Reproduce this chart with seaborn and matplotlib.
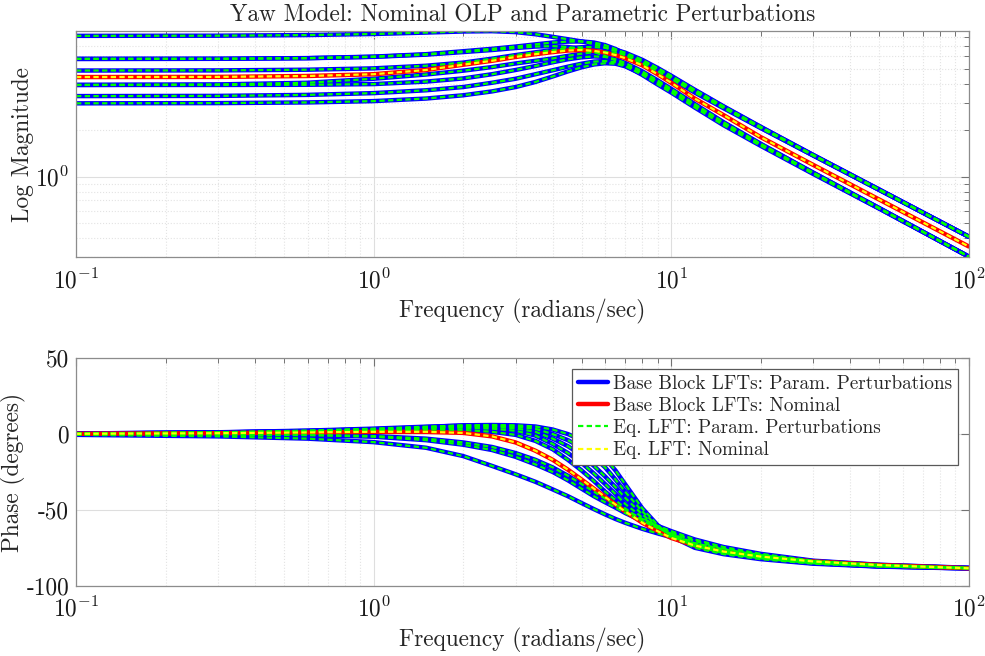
import numpy as np
import pandas as pd
import matplotlib
matplotlib.use("Agg")
import matplotlib.pyplot as plt
import seaborn as sns
from matplotlib.lines import Line2D
from matplotlib.ticker import LogLocator, NullFormatter, FixedLocator, FuncFormatter

# Frequency grid (rad/s) shared by every response
freq = [0.1, 0.3, 0.6, 1, 1.5, 2, 2.5, 3, 3.5, 4, 4.5, 5, 5.5, 6, 6.5, 7,
        8, 9, 10, 12, 15, 20, 30, 50, 100]

# Magnitude responses
mag_nom = [4.41, 4.42, 4.48, 4.60, 4.90, 5.30, 5.62, 5.95, 6.20, 6.40, 6.55, 6.60, 6.52,
           6.35, 6.12, 5.85, 5.25, 4.60, 4.05, 3.20, 2.50, 1.80, 1.19, 0.71, 0.3526]
mag_p1 = [8.15, 8.17, 8.25, 8.38, 8.56, 8.70, 8.74, 8.62, 8.35, 8.03, 7.75, 7.50, 7.20,
          6.85, 6.50, 6.10, 5.40, 4.80, 4.30, 3.50, 2.77, 2.06, 1.37, 0.82, 0.408]
mag_p2 = [5.78, 5.79, 5.85, 5.98, 6.20, 6.48, 6.72, 6.95, 7.18, 7.38, 7.48, 7.50, 7.38,
          7.10, 6.70, 6.25, 5.50, 4.85, 4.35, 3.55, 2.80, 2.07, 1.37, 0.82, 0.408]
mag_p3 = [5.78, 5.79, 5.84, 5.96, 6.16, 6.40, 6.60, 6.80, 6.95, 7.00, 6.90, 6.70, 6.40,
          6.05, 5.65, 5.25, 4.55, 3.95, 3.50, 2.80, 2.15, 1.58, 1.04, 0.62, 0.303]
mag_p4 = [4.86, 4.87, 4.92, 5.02, 5.22, 5.47, 5.80, 6.12, 6.38, 6.60, 6.78, 6.88, 6.90,
          6.82, 6.62, 6.35, 5.70, 5.05, 4.50, 3.65, 2.85, 2.10, 1.38, 0.825, 0.408]
mag_p5 = [3.92, 3.95, 4.05, 4.30, 4.58, 4.85, 5.12, 5.40, 5.62, 5.82, 6.05, 6.25, 6.38,
          6.42, 6.35, 6.15, 5.60, 5.00, 4.45, 3.62, 2.83, 2.09, 1.38, 0.823, 0.408]
mag_p6 = [3.92, 3.92, 3.93, 3.97, 4.12, 4.32, 4.60, 4.90, 5.20, 5.50, 5.75, 5.92, 6.00,
          5.95, 5.75, 5.45, 4.80, 4.20, 3.70, 2.95, 2.25, 1.63, 1.06, 0.625, 0.303]
mag_p7 = [3.32, 3.33, 3.38, 3.47, 3.62, 3.80, 4.05, 4.30, 4.60, 4.88, 5.15, 5.38, 5.55,
          5.60, 5.50, 5.28, 4.70, 4.12, 3.65, 2.92, 2.23, 1.62, 1.06, 0.625, 0.303]
mag_p8 = [2.98, 2.99, 3.02, 3.08, 3.20, 3.36, 3.56, 3.80, 4.10, 4.45, 4.80, 5.10, 5.32,
          5.42, 5.38, 5.18, 4.60, 4.05, 3.58, 2.88, 2.20, 1.60, 1.05, 0.622, 0.303]

# Phase responses (degrees)
ph_nom = [0.2, 0.6, 1.1, 1.5, 1.5, 0.8, -1.5, -5.5, -11, -17, -23.5, -30, -36, -41.5,
          -46.5, -51, -58.5, -64, -68.5, -73.5, -77.5, -80.8, -84, -86.4, -88.5]
ph_p1 = [-0.5, -1.5, -3.0, -5.3, -9.0, -14.5, -21, -26.5, -31.5, -36.5, -41, -45.5, -49.5,
         -53, -56, -58.5, -62.5, -65.5, -68, -72, -76, -79.8, -83.8, -86.3, -88.3]
ph_p2 = [0, -0.2, -0.5, -1.3, -3.0, -5.5, -8.5, -12.5, -17, -22, -27.5, -33, -38, -42.5,
         -46.5, -50, -56, -60.5, -64, -69.5, -74.5, -79, -83.5, -86.2, -88.2]
ph_p3 = [-0.1, -0.3, -0.7, -1.7, -4.0, -7.0, -10.5, -15, -20, -25, -30.5, -36, -41, -45,
         -48.5, -52, -57.5, -61.5, -65, -70.5, -75.5, -79.5, -84, -86.5, -88.4]
ph_p4 = [0.3, 0.9, 1.7, 2.4, 3.0, 2.8, 1.5, -0.5, -4.5, -10, -17, -24, -31, -38, -43.5,
         -49, -57, -62, -65.5, -72, -77, -81, -84.5, -86.8, -88.4]
ph_p5 = [0.4, 1.1, 2.1, 3.2, 4.0, 4.2, 3.6, 2.2, -1, -6.5, -12.5, -19, -26, -33, -39.5,
         -46, -55, -61.5, -66, -72.5, -77.5, -81.2, -84.6, -86.8, -88.4]
ph_p6 = [0.3, 1.0, 1.9, 3.0, 4.2, 5.0, 4.8, 3.8, 1.5, -3, -8, -14, -21, -28, -35,
         -42, -53, -61.5, -66.5, -73, -78, -81.7, -85, -87.2, -88.6]
ph_p7 = [0.4, 1.2, 2.3, 3.6, 4.9, 5.6, 5.6, 5.0, 3.5, 0, -4, -9, -15, -22, -30,
         -38, -51, -61, -67, -74, -78.5, -82, -85.2, -87.3, -88.6]
ph_p8 = [0.3, 1.0, 2.0, 3.2, 4.6, 5.8, 6.0, 5.8, 5.0, 3, 0, -4, -9.5, -16, -24,
         -33, -49, -60, -67.5, -75, -79.2, -82.5, -85.5, -87.4, -88.7]

mag_perturbed = [mag_p1, mag_p2, mag_p3, mag_p4, mag_p5, mag_p6, mag_p7, mag_p8]
ph_perturbed = [ph_p1, ph_p2, ph_p3, ph_p4, ph_p5, ph_p6, ph_p7, ph_p8]

legend_labels = ["Base Block LFTs: Param. Perturbations",
                 "Base Block LFTs: Nominal",
                 "Eq. LFT: Param. Perturbations",
                 "Eq. LFT: Nominal"]


def long_frame(curves):
    rows = []
    for k, vals in enumerate(curves):
        for f, v in zip(freq, vals):
            rows.append({"freq": f, "value": v, "curve": k})
    return pd.DataFrame(rows)


sns.set_style("white")
plt.rcParams["font.family"] = "serif"
plt.rcParams["font.serif"] = ["cmr10", "DejaVu Serif"]
plt.rcParams["mathtext.fontset"] = "cm"
plt.rcParams["axes.formatter.use_mathtext"] = True
plt.rcParams["axes.unicode_minus"] = False

BLUE, RED, GREEN, YELLOW = (0, 0, 1), (1, 0, 0), (0, 1, 0), (1, 1, 0)
SOLID_LW, DASH_LW, DASH = 3.2, 1.6, (2.4, 1.5)
FS = 16.8

fig = plt.figure(figsize=(9.85, 6.56), dpi=100)
ax_mag = fig.add_axes([0.0772, 0.6078, 0.9063, 0.3449])
ax_ph = fig.add_axes([0.0772, 0.1072, 0.9063, 0.3466])


def draw_layers(ax, perturbed, nominal):
    pert = long_frame(perturbed)
    nom = long_frame([nominal])
    sns.lineplot(data=pert, x="freq", y="value", units="curve", estimator=None,
                 color=BLUE, lw=SOLID_LW, sort=False, legend=False, ax=ax)
    sns.lineplot(data=nom, x="freq", y="value", units="curve", estimator=None,
                 color=RED, lw=SOLID_LW, sort=False, legend=False, ax=ax)
    n0 = len(ax.lines)
    sns.lineplot(data=pert, x="freq", y="value", units="curve", estimator=None,
                 color=GREEN, lw=DASH_LW, sort=False, legend=False, ax=ax)
    sns.lineplot(data=nom, x="freq", y="value", units="curve", estimator=None,
                 color=YELLOW, lw=DASH_LW, sort=False, legend=False, ax=ax)
    for ln in ax.lines[n0:]:
        ln.set_dashes(DASH)


def style_axis(ax):
    ax.set_xscale("log")
    ax.set_xlim(0.1, 100)
    ax.xaxis.set_major_locator(LogLocator(base=10, numticks=10))
    ax.xaxis.set_minor_locator(LogLocator(base=10, subs=np.arange(2, 10), numticks=40))
    ax.xaxis.set_minor_formatter(NullFormatter())
    ax.grid(which="major", color="#dedede", lw=0.8, ls="-")
    ax.grid(which="minor", color="#e3e3e3", lw=0.8, ls=":")
    ax.tick_params(which="both", direction="in", top=True, right=True,
                   colors="0.45", labelcolor="0.1", labelsize=FS)
    ax.tick_params(which="major", length=6, width=0.8)
    ax.tick_params(which="minor", length=3.5, width=0.7)
    ax.tick_params(axis="x", which="major", pad=8)
    ax.tick_params(axis="y", which="major", pad=5)
    for sp in ax.spines.values():
        sp.set_color("0.55")
        sp.set_linewidth(0.9)
    ax.set_axisbelow(True)
    ax.set_xlabel("Frequency (radians/sec)", fontsize=FS)
    ax.xaxis.set_label_coords(0.5, -0.185)


# Magnitude panel
draw_layers(ax_mag, mag_perturbed, mag_nom)
style_axis(ax_mag)
ax_mag.set_yscale("log")
ax_mag.set_ylim(0.3, 8.76)
ax_mag.yaxis.set_major_locator(FixedLocator([1.0]))
ax_mag.yaxis.set_minor_locator(LogLocator(base=10, subs=np.arange(2, 10), numticks=40))
ax_mag.yaxis.set_minor_formatter(NullFormatter())
ax_mag.set_ylabel("Log Magnitude", fontsize=FS)
ax_mag.yaxis.set_label_coords(-0.047, 0.5)
ax_mag.set_title("Yaw Model: Nominal OLP and Parametric Perturbations", fontsize=FS, pad=7)

# Phase panel
draw_layers(ax_ph, ph_perturbed, ph_nom)
style_axis(ax_ph)
ax_ph.set_ylim(-100, 50)
ax_ph.set_yticks([-100, -50, 0, 50])
ax_ph.yaxis.set_major_formatter(FuncFormatter(lambda v, _: "%d" % v))
ax_ph.set_ylabel("Phase (degrees)", fontsize=FS)
ax_ph.yaxis.set_label_coords(-0.056, 0.5)

handles = [Line2D([], [], color=BLUE, lw=SOLID_LW),
           Line2D([], [], color=RED, lw=SOLID_LW),
           Line2D([], [], color=GREEN, lw=DASH_LW, dashes=DASH),
           Line2D([], [], color=YELLOW, lw=DASH_LW, dashes=DASH)]
leg = ax_ph.legend(handles, legend_labels, loc="upper right",
                   bbox_to_anchor=(0.988, 0.953), borderaxespad=0,
                   fontsize=13.8, handlelength=1.6, handletextpad=0.25,
                   labelspacing=0.22, borderpad=0.3, fancybox=False,
                   framealpha=1, edgecolor="0.35")
leg.get_frame().set_linewidth(0.9)

fig.savefig("out.png", dpi=100)
